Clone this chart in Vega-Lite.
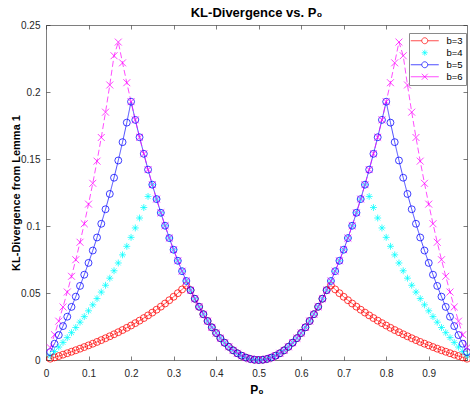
{
  "$schema": "https://vega.github.io/schema/vega-lite/v6.json",
  "autosize": {"type": "none"},
  "padding": {"left": 46, "top": 25, "right": 3, "bottom": 43},
  "width": 421,
  "height": 335,
  "background": "white",
  "title": {"text": "KL-Divergence vs. P₀", "fontSize": 13, "fontWeight": "bold", "font": "Liberation Sans", "color": "#000000", "anchor": "middle", "offset": 0},
  "config": {
    "view": {"stroke": null},
    "axis": {"domainColor": "#262626", "tickColor": "#262626", "labelColor": "#262626", "domainWidth": 0.6, "tickWidth": 0.6, "tickSize": -4, "grid": false, "labelFont": "Liberation Sans", "labelFontSize": 10, "labelFlush": false, "titleFont": "Liberation Sans", "titleFontWeight": "bold", "titleColor": "#000000"}
  },
  "data": {"values": [
    {"p":0.01,"b=3":0.00096,"b=4":0.00312,"b=5":0.00595,"b=6":0.00922},
    {"p":0.02,"b=3":0.00194,"b=4":0.00634,"b=5":0.01214,"b=6":0.01887},
    {"p":0.03,"b=3":0.00295,"b=4":0.00968,"b=5":0.01859,"b=6":0.02898},
    {"p":0.04,"b=3":0.00399,"b=4":0.01313,"b=5":0.02531,"b=6":0.03959},
    {"p":0.05,"b=3":0.00506,"b=4":0.01671,"b=5":0.03231,"b=6":0.05073},
    {"p":0.06,"b=3":0.00616,"b=4":0.02041,"b=5":0.03963,"b=6":0.06246},
    {"p":0.07,"b=3":0.00729,"b=4":0.02425,"b=5":0.04728,"b=6":0.07483},
    {"p":0.08,"b=3":0.00846,"b=4":0.02824,"b=5":0.05528,"b=6":0.08788},
    {"p":0.09,"b=3":0.00966,"b=4":0.03238,"b=5":0.06366,"b=6":0.10169},
    {"p":0.10,"b=3":0.01090,"b=4":0.03669,"b=5":0.07246,"b=6":0.11632},
    {"p":0.11,"b=3":0.01217,"b=4":0.04117,"b=5":0.08170,"b=6":0.13186},
    {"p":0.12,"b=3":0.01349,"b=4":0.04583,"b=5":0.09143,"b=6":0.14841},
    {"p":0.13,"b=3":0.01485,"b=4":0.05069,"b=5":0.10167,"b=6":0.16606},
    {"p":0.14,"b=3":0.01625,"b=4":0.05577,"b=5":0.11249,"b=6":0.18495},
    {"p":0.15,"b=3":0.01770,"b=4":0.06106,"b=5":0.12392,"b=6":0.20523},
    {"p":0.16,"b=3":0.01920,"b=4":0.06660,"b=5":0.13603,"b=6":0.22706},
    {"p":0.17,"b=3":0.02075,"b=4":0.07239,"b=5":0.14889,"b=6":0.23727},
    {"p":0.18,"b=3":0.02235,"b=4":0.07846,"b=5":0.16257,"b=6":0.22176},
    {"p":0.19,"b=3":0.02401,"b=4":0.08483,"b=5":0.17715,"b=6":0.20693},
    {"p":0.20,"b=3":0.02573,"b=4":0.09152,"b=5":0.19275,"b=6":0.19275},
    {"p":0.21,"b=3":0.02752,"b=4":0.09855,"b=5":0.17919,"b=6":0.17919},
    {"p":0.22,"b=3":0.02937,"b=4":0.10597,"b=5":0.16624,"b=6":0.16624},
    {"p":0.23,"b=3":0.03129,"b=4":0.11379,"b=5":0.15387,"b=6":0.15387},
    {"p":0.24,"b=3":0.03329,"b=4":0.12206,"b=5":0.14207,"b=6":0.14207},
    {"p":0.25,"b=3":0.03538,"b=4":0.13082,"b=5":0.13082,"b=6":0.13082},
    {"p":0.26,"b=3":0.03754,"b=4":0.12009,"b=5":0.12009,"b=6":0.12009},
    {"p":0.27,"b=3":0.03980,"b=4":0.10989,"b=5":0.10989,"b=6":0.10989},
    {"p":0.28,"b=3":0.04215,"b=4":0.10020,"b=5":0.10020,"b=6":0.10020},
    {"p":0.29,"b=3":0.04461,"b=4":0.09100,"b=5":0.09100,"b=6":0.09100},
    {"p":0.30,"b=3":0.04717,"b=4":0.08229,"b=5":0.08229,"b=6":0.08229},
    {"p":0.31,"b=3":0.04986,"b=4":0.07405,"b=5":0.07405,"b=6":0.07405},
    {"p":0.32,"b=3":0.05267,"b=4":0.06628,"b=5":0.06628,"b=6":0.06628},
    {"p":0.33,"b=3":0.05562,"b=4":0.05897,"b=5":0.05897,"b=6":0.05897},
    {"p":0.34,"b=3":0.05211,"b=4":0.05211,"b=5":0.05211,"b=6":0.05211},
    {"p":0.35,"b=3":0.04570,"b=4":0.04570,"b=5":0.04570,"b=6":0.04570},
    {"p":0.36,"b=3":0.03973,"b=4":0.03973,"b=5":0.03973,"b=6":0.03973},
    {"p":0.37,"b=3":0.03419,"b=4":0.03419,"b=5":0.03419,"b=6":0.03419},
    {"p":0.38,"b=3":0.02909,"b=4":0.02909,"b=5":0.02909,"b=6":0.02909},
    {"p":0.39,"b=3":0.02440,"b=4":0.02440,"b=5":0.02440,"b=6":0.02440},
    {"p":0.40,"b=3":0.02013,"b=4":0.02013,"b=5":0.02013,"b=6":0.02013},
    {"p":0.41,"b=3":0.01629,"b=4":0.01629,"b=5":0.01629,"b=6":0.01629},
    {"p":0.42,"b=3":0.01286,"b=4":0.01286,"b=5":0.01286,"b=6":0.01286},
    {"p":0.43,"b=3":0.00983,"b=4":0.00983,"b=5":0.00983,"b=6":0.00983},
    {"p":0.44,"b=3":0.00722,"b=4":0.00722,"b=5":0.00722,"b=6":0.00722},
    {"p":0.45,"b=3":0.00501,"b=4":0.00501,"b=5":0.00501,"b=6":0.00501},
    {"p":0.46,"b=3":0.00321,"b=4":0.00321,"b=5":0.00321,"b=6":0.00321},
    {"p":0.47,"b=3":0.00180,"b=4":0.00180,"b=5":0.00180,"b=6":0.00180},
    {"p":0.48,"b=3":0.00080,"b=4":0.00080,"b=5":0.00080,"b=6":0.00080},
    {"p":0.49,"b=3":0.00020,"b=4":0.00020,"b=5":0.00020,"b=6":0.00020},
    {"p":0.50,"b=3":0.00000,"b=4":0.00000,"b=5":0.00000,"b=6":0.00000},
    {"p":0.51,"b=3":0.00020,"b=4":0.00020,"b=5":0.00020,"b=6":0.00020},
    {"p":0.52,"b=3":0.00080,"b=4":0.00080,"b=5":0.00080,"b=6":0.00080},
    {"p":0.53,"b=3":0.00180,"b=4":0.00180,"b=5":0.00180,"b=6":0.00180},
    {"p":0.54,"b=3":0.00321,"b=4":0.00321,"b=5":0.00321,"b=6":0.00321},
    {"p":0.55,"b=3":0.00501,"b=4":0.00501,"b=5":0.00501,"b=6":0.00501},
    {"p":0.56,"b=3":0.00722,"b=4":0.00722,"b=5":0.00722,"b=6":0.00722},
    {"p":0.57,"b=3":0.00983,"b=4":0.00983,"b=5":0.00983,"b=6":0.00983},
    {"p":0.58,"b=3":0.01286,"b=4":0.01286,"b=5":0.01286,"b=6":0.01286},
    {"p":0.59,"b=3":0.01629,"b=4":0.01629,"b=5":0.01629,"b=6":0.01629},
    {"p":0.60,"b=3":0.02013,"b=4":0.02013,"b=5":0.02013,"b=6":0.02013},
    {"p":0.61,"b=3":0.02440,"b=4":0.02440,"b=5":0.02440,"b=6":0.02440},
    {"p":0.62,"b=3":0.02909,"b=4":0.02909,"b=5":0.02909,"b=6":0.02909},
    {"p":0.63,"b=3":0.03419,"b=4":0.03419,"b=5":0.03419,"b=6":0.03419},
    {"p":0.64,"b=3":0.03973,"b=4":0.03973,"b=5":0.03973,"b=6":0.03973},
    {"p":0.65,"b=3":0.04570,"b=4":0.04570,"b=5":0.04570,"b=6":0.04570},
    {"p":0.66,"b=3":0.05211,"b=4":0.05211,"b=5":0.05211,"b=6":0.05211},
    {"p":0.67,"b=3":0.05562,"b=4":0.05897,"b=5":0.05897,"b=6":0.05897},
    {"p":0.68,"b=3":0.05267,"b=4":0.06628,"b=5":0.06628,"b=6":0.06628},
    {"p":0.69,"b=3":0.04986,"b=4":0.07405,"b=5":0.07405,"b=6":0.07405},
    {"p":0.70,"b=3":0.04717,"b=4":0.08229,"b=5":0.08229,"b=6":0.08229},
    {"p":0.71,"b=3":0.04461,"b=4":0.09100,"b=5":0.09100,"b=6":0.09100},
    {"p":0.72,"b=3":0.04215,"b=4":0.10020,"b=5":0.10020,"b=6":0.10020},
    {"p":0.73,"b=3":0.03980,"b=4":0.10989,"b=5":0.10989,"b=6":0.10989},
    {"p":0.74,"b=3":0.03754,"b=4":0.12009,"b=5":0.12009,"b=6":0.12009},
    {"p":0.75,"b=3":0.03538,"b=4":0.13082,"b=5":0.13082,"b=6":0.13082},
    {"p":0.76,"b=3":0.03329,"b=4":0.12206,"b=5":0.14207,"b=6":0.14207},
    {"p":0.77,"b=3":0.03129,"b=4":0.11379,"b=5":0.15387,"b=6":0.15387},
    {"p":0.78,"b=3":0.02937,"b=4":0.10597,"b=5":0.16624,"b=6":0.16624},
    {"p":0.79,"b=3":0.02752,"b=4":0.09855,"b=5":0.17919,"b=6":0.17919},
    {"p":0.80,"b=3":0.02573,"b=4":0.09152,"b=5":0.19275,"b=6":0.19275},
    {"p":0.81,"b=3":0.02401,"b=4":0.08483,"b=5":0.17715,"b=6":0.20693},
    {"p":0.82,"b=3":0.02235,"b=4":0.07846,"b=5":0.16257,"b=6":0.22176},
    {"p":0.83,"b=3":0.02075,"b=4":0.07239,"b=5":0.14889,"b=6":0.23727},
    {"p":0.84,"b=3":0.01920,"b=4":0.06660,"b=5":0.13603,"b=6":0.22706},
    {"p":0.85,"b=3":0.01770,"b=4":0.06106,"b=5":0.12392,"b=6":0.20523},
    {"p":0.86,"b=3":0.01625,"b=4":0.05577,"b=5":0.11249,"b=6":0.18495},
    {"p":0.87,"b=3":0.01485,"b=4":0.05069,"b=5":0.10167,"b=6":0.16606},
    {"p":0.88,"b=3":0.01349,"b=4":0.04583,"b=5":0.09143,"b=6":0.14841},
    {"p":0.89,"b=3":0.01217,"b=4":0.04117,"b=5":0.08170,"b=6":0.13186},
    {"p":0.90,"b=3":0.01090,"b=4":0.03669,"b=5":0.07246,"b=6":0.11632},
    {"p":0.91,"b=3":0.00966,"b=4":0.03238,"b=5":0.06366,"b=6":0.10169},
    {"p":0.92,"b=3":0.00846,"b=4":0.02824,"b=5":0.05528,"b=6":0.08788},
    {"p":0.93,"b=3":0.00729,"b=4":0.02425,"b=5":0.04728,"b=6":0.07483},
    {"p":0.94,"b=3":0.00616,"b=4":0.02041,"b=5":0.03963,"b=6":0.06246},
    {"p":0.95,"b=3":0.00506,"b=4":0.01671,"b=5":0.03231,"b=6":0.05073},
    {"p":0.96,"b=3":0.00399,"b=4":0.01313,"b=5":0.02531,"b=6":0.03959},
    {"p":0.97,"b=3":0.00295,"b=4":0.00968,"b=5":0.01859,"b=6":0.02898},
    {"p":0.98,"b=3":0.00194,"b=4":0.00634,"b=5":0.01214,"b=6":0.01887},
    {"p":0.99,"b=3":0.00096,"b=4":0.00312,"b=5":0.00595,"b=6":0.00922}
  ]},
  "transform": [{"fold": ["b=3", "b=4", "b=5", "b=6"], "as": ["b", "kl"]}],
  "layer": [
    {
      "transform": [{"filter": "datum.b !== 'b=4'"}],
      "mark": {"type": "line", "strokeWidth": 0.7},
      "encoding": {
        "x": {"field": "p", "type": "quantitative", "scale": {"domain": [0, 0.99], "nice": false, "zero": false},
              "axis": {"orient": "bottom", "values": [0,0.1,0.2,0.3,0.4,0.5,0.6,0.7,0.8,0.9], "format": "~g", "labelPadding": 12, "title": "P₀", "titleFontSize": 12, "titlePadding": 6}},
        "y": {"field": "kl", "type": "quantitative", "scale": {"domain": [0, 0.25], "nice": false},
              "axis": {"orient": "left", "values": [0,0.05,0.1,0.15,0.2,0.25], "format": "~g", "labelPadding": 10, "title": "KL-Divergence from Lemma 1", "titleFontSize": 11, "titlePadding": -1}},
        "color": {"field": "b", "type": "nominal", "scale": {"domain": ["b=3","b=4","b=5","b=6"], "range": ["#ff0000","#00ffff","#0000ff","#ff00ff"]}, "legend": null},
        "strokeDash": {"field": "b", "type": "nominal", "scale": {"domain": ["b=3","b=5","b=6"], "range": [[1,0],[1,0],[6,3]]}, "legend": null}
      }
    },
    {
      "mark": {"type": "point", "filled": false, "strokeWidth": 0.75, "size": 48, "opacity": 1},
      "encoding": {
        "x": {"field": "p", "type": "quantitative", "axis": null},
        "y": {"field": "kl", "type": "quantitative", "axis": null},
        "shape": {"field": "b", "type": "nominal", "legend": null,
          "scale": {"domain": ["b=3","b=4","b=5","b=6"], "range": ["circle", "M-1,0L1,0M0,-1L0,1M-0.7,-0.7L0.7,0.7M-0.7,0.7L0.7,-0.7", "circle", "M-1,-1L1,1M-1,1L1,-1"]}},
        "color": {"field": "b", "type": "nominal", "scale": {"domain": ["b=3","b=4","b=5","b=6"], "range": ["#ff0000","#00ffff","#0000ff","#ff00ff"]}, "legend": null}
      }
    },
    {
      "transform": [{"filter": "datum.p > 5"}],
      "mark": {"type": "point", "filled": false, "strokeWidth": 0.7, "opacity": 1},
      "encoding": {
        "x": {"field": "p", "type": "quantitative", "axis": null},
        "y": {"field": "kl", "type": "quantitative", "axis": null},
        "shape": {"field": "b", "type": "nominal",
          "scale": {"domain": ["b=3","b=4","b=5","b=6"], "range": [
            "M-1.5,0L1.25,0M2.75,0L5.5,0M2.75,0A0.75,0.75,0,1,1,1.25,0A0.75,0.75,0,1,1,2.75,0",
            "M1.25,0L2.75,0M2,-0.75L2,0.75M1.47,-0.53L2.53,0.53M1.47,0.53L2.53,-0.53",
            "M-1.5,0L1.25,0M2.75,0L5.5,0M2.75,0A0.75,0.75,0,1,1,1.25,0A0.75,0.75,0,1,1,2.75,0",
            "M-1.5,0L5.5,0M1.25,-0.75L2.75,0.75M1.25,0.75L2.75,-0.75"]},
          "legend": {
            "title": null, "orient": "none", "legendX": 363, "legendY": 8,
            "padding": 3, "strokeColor": "#8a8a8a", "fillColor": "white",
            "symbolSize": 64, "symbolStrokeWidth": 0.7, "labelOffset": 25, "rowPadding": 1,
            "labelFont": "Liberation Sans", "labelFontSize": 9.5, "labelColor": "#000000"
          }},
        "color": {"field": "b", "type": "nominal", "scale": {"domain": ["b=3","b=4","b=5","b=6"], "range": ["#ff0000","#00ffff","#0000ff","#ff00ff"]},
          "legend": {
            "title": null, "orient": "none", "legendX": 363, "legendY": 8,
            "padding": 3, "strokeColor": "#8a8a8a", "fillColor": "white",
            "symbolSize": 64, "symbolStrokeWidth": 0.7, "labelOffset": 25, "rowPadding": 1,
            "labelFont": "Liberation Sans", "labelFontSize": 9.5, "labelColor": "#000000"
          }}
      }
    },
    {
      "mark": {"type": "point", "opacity": 0},
      "encoding": {
        "x": {"field": "p", "type": "quantitative", "axis": {"orient": "top", "values": [0,0.1,0.2,0.3,0.4,0.5,0.6,0.7,0.8,0.9], "labels": false, "title": null}},
        "y": {"field": "kl", "type": "quantitative", "axis": {"orient": "right", "values": [0,0.05,0.1,0.15,0.2,0.25], "labels": false, "title": null}}
      }
    }
  ],
  "resolve": {"axis": {"x": "independent", "y": "independent"}, "scale": {"color": "independent", "shape": "independent"}}
}
